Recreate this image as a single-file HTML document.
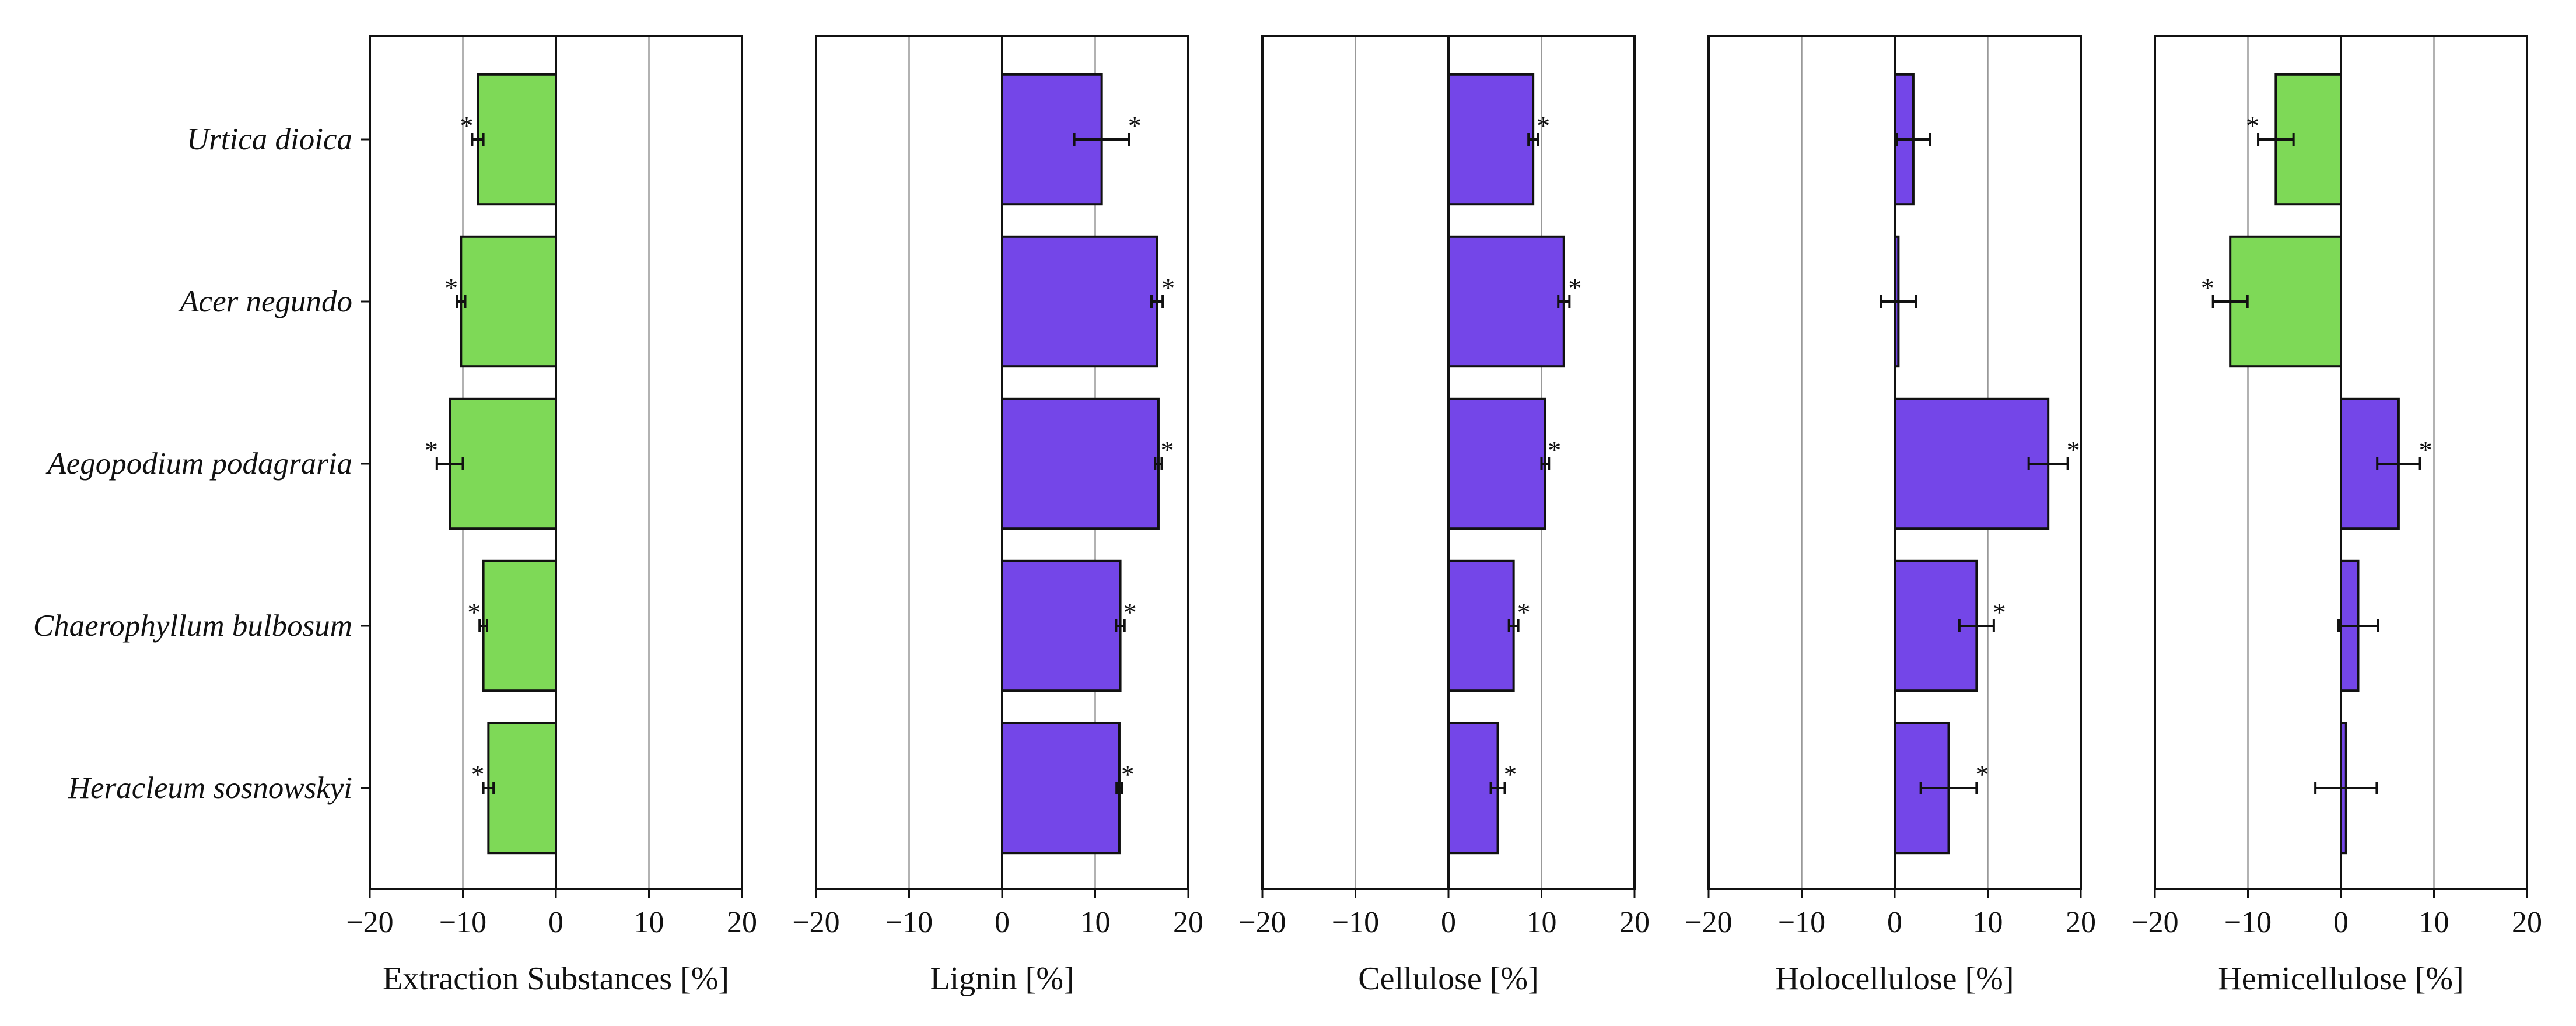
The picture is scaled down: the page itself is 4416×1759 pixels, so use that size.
<!DOCTYPE html>
<html><head><meta charset="utf-8"><style>
html,body{margin:0;padding:0;background:#fff;}
svg{display:block;font-family:"Liberation Serif",serif;}
</style></head><body>
<svg id="chart" width="4416" height="1759" viewBox="0 0 4416 1759" xmlns="http://www.w3.org/2000/svg"></svg>
<script>
const categories = ["Urtica dioica","Acer negundo","Aegopodium podagraria","Chaerophyllum bulbosum","Heracleum sosnowskyi"];
const panelTitles = ["Extraction Substances [%]","Lignin [%]","Cellulose [%]","Holocellulose [%]","Hemicellulose [%]"];
const extractionValues = [-8.4,-10.2,-11.4,-7.8,-7.25];
const extractionErrors = [0.6,0.45,1.4,0.4,0.55];
const extractionStars = [1,1,1,1,1];
const ligninValues = [10.7,16.65,16.8,12.7,12.6];
const ligninErrors = [2.95,0.6,0.35,0.45,0.3];
const ligninStars = [1,1,1,1,1];
const celluloseValues = [9.1,12.4,10.4,7.0,5.3];
const celluloseErrors = [0.5,0.6,0.4,0.5,0.75];
const celluloseStars = [1,1,1,1,1];
const holoValues = [2.0,0.4,16.5,8.8,5.8];
const holoErrors = [1.8,1.9,2.1,1.85,3.0];
const holoStars = [0,0,1,1,1];
const hemiValues = [-7.0,-11.9,6.2,1.85,0.55];
const hemiErrors = [1.9,1.85,2.3,2.1,3.3];
const hemiStars = [1,1,1,0,0];
const xTicks = [-20,-10,0,10,20];
const xTickLabels = ["\u221220","\u221210","0","10","20"];
const xMin = -20, xMax = 20;

const series = [
  [extractionValues, extractionErrors, extractionStars],
  [ligninValues, ligninErrors, ligninStars],
  [celluloseValues, celluloseErrors, celluloseStars],
  [holoValues, holoErrors, holoStars],
  [hemiValues, hemiErrors, hemiStars]
];
const svgEl = document.getElementById('chart');
const NS = 'http://www.w3.org/2000/svg';
function mk(tag, attrs, parent){const e=document.createElementNS(NS,tag);for(const k in attrs)e.setAttribute(k,attrs[k]);(parent||svgEl).appendChild(e);return e;}
const plotTop = 62, plotBottom = 1524, pw = 638;
const band = 278, firstCenter = 239;
series.forEach((s,p)=>{
  const L = 634 + 765*p;
  const xs = v => L + (v-xMin)/(xMax-xMin)*pw;
  const g = mk('g',{});
  
  
  [-10,10].forEach(t=>{
    const gl = mk('line',{x1:xs(t),x2:xs(t),y1:plotTop,y2:plotBottom,stroke:'#999','stroke-width':2.5},g);
    
    
  });
  const bh = band*0.8;
  s[0].forEach((v,i)=>{
    const yc = firstCenter + band*i;
    const x0 = xs(0), x1 = xs(v);
    const r = mk('rect',{x:Math.min(x0,x1),y:yc-bh/2,width:Math.abs(x1-x0),height:bh,fill:v<0?'#7ed957':'#7446e8',stroke:'#111','stroke-width':4},g);
    
    
    const e = s[1][i];
    const ea = xs(v-e), eb = xs(v+e);
    const eg = mk('g',{stroke:'#111','stroke-width':4},g);
    
    
    mk('line',{x1:ea,x2:eb,y1:yc,y2:yc},eg);
    mk('line',{x1:ea,x2:ea,y1:yc-11,y2:yc+11},eg);
    mk('line',{x1:eb,x2:eb,y1:yc-11,y2:yc+11},eg);
    if(s[2][i]){
      const sx = v<0 ? ea+2 : eb-2;
      const st = mk('text',{x:sx,y:yc-8,'font-size':46,'text-anchor':v<0?'end':'start',fill:'#111'},g);
      st.textContent='*';
      
      
    }
  });
  const zl = mk('line',{x1:xs(0),x2:xs(0),y1:plotTop,y2:plotBottom,stroke:'#111','stroke-width':4},g);
  
  
  const fr = mk('rect',{x:L,y:plotTop,width:pw,height:plotBottom-plotTop,fill:'none',stroke:'#111','stroke-width':4},g);
  
  
  xTicks.forEach((t,k)=>{
    mk('line',{x1:xs(t),x2:xs(t),y1:plotBottom,y2:plotBottom+15,stroke:'#111','stroke-width':3},g);
    const tl = mk('text',{x:xs(t),y:1598,'font-size':52,'text-anchor':'middle',fill:'#111'},g);
    tl.textContent = xTickLabels[k];
    
    
  });
  const xl = mk('text',{x:L+pw/2,y:1696,'font-size':56,'text-anchor':'middle',fill:'#111'},g);
  xl.textContent = panelTitles[p];
  
  
  if(p===0){
    categories.forEach((c,i)=>{
      const yc = firstCenter + band*i;
      mk('line',{x1:L-15,x2:L,y1:yc,y2:yc,stroke:'#111','stroke-width':3},g);
      const cl = mk('text',{x:L-30,y:yc+17,'font-size':53,'font-style':'italic','text-anchor':'end',fill:'#111'},g);
      cl.textContent = c;
      
      
    });
  }
});
</script>
</body></html>
